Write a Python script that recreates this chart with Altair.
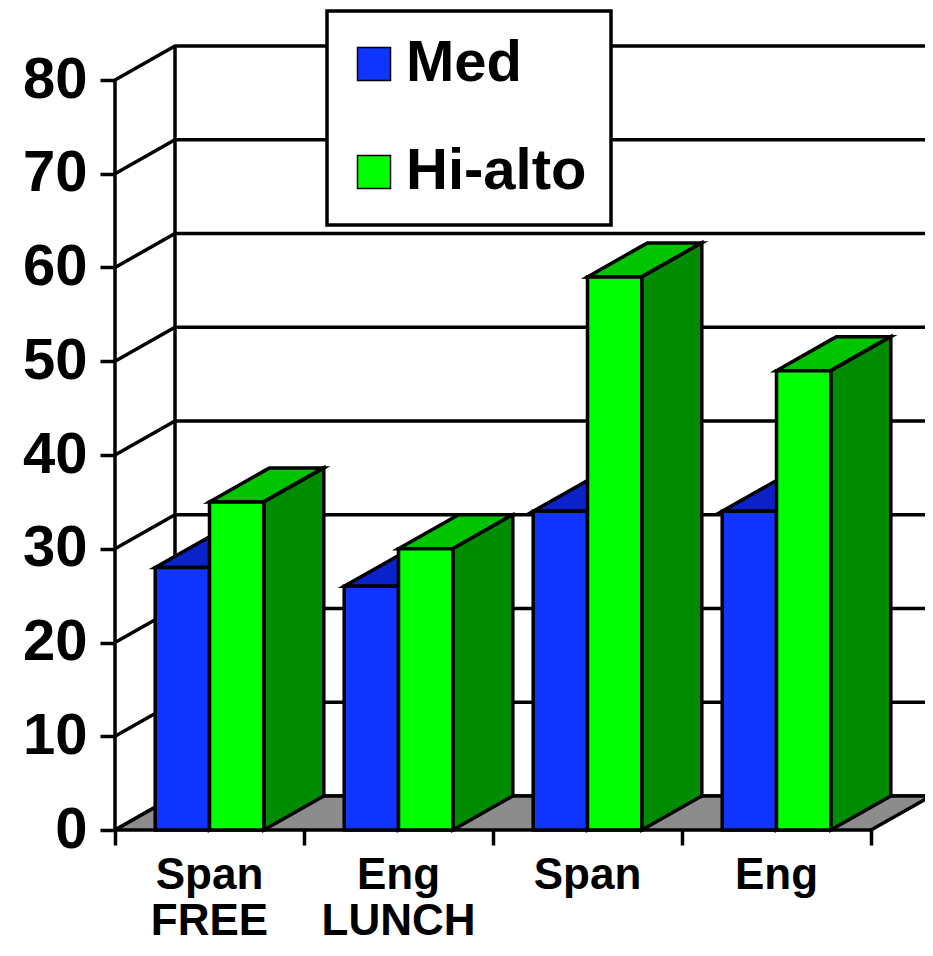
import altair as alt
import pandas as pd

# ---------------- data ----------------
label_line1 = ["Span", "Eng", "Span", "Eng"]
label_line2 = ["FREE", "LUNCH", "", ""]
series = ["Med", "Hi-alto"]
med = [28, 26, 34, 34]
hialto = [35, 30, 59, 49]
y_ticks = [0, 10, 20, 30, 40, 50, 60, 70, 80]
x_ticks = [0, 1, 2, 3, 4]

# ---------------- geometry (pixels -> data units) ----------------
CAT_PX = 189.0          # pixels per category
PX_PER_UNIT = 9.375     # pixels per value unit
W = 810                 # plot width (px)
H = 784                 # plot height (px)
XMAX = W / CAT_PX
YMAX = H / PX_PER_UNIT
DX = 60 / CAT_PX        # depth offset (x)
DY = 34 / PX_PER_UNIT   # depth offset (y)
GAP_L = 40.2 / CAT_PX
BW = 54.3 / CAT_PX
SW = 3.5                # outline width

front_col = {"Med": "#1035FF", "Hi-alto": "#00FF00"}
top_col = {"Med": "#0A22C8", "Hi-alto": "#00C400"}
side_col = {"Med": "#0718A0", "Hi-alto": "#008C00"}
FLOOR = "#8C8C8C"
FONT = "Liberation Sans"

values = {"Med": med, "Hi-alto": hialto}

front_rows, side_rows, top_rows = [], [], []
for i in range(len(label_line1)):
    for k, s in enumerate(series):
        v = values[s][i]
        x0 = i + GAP_L + k * BW
        x1 = x0 + BW
        bid = f"{s}-{i}"
        front_rows.append({"series": s, "x": x0, "x2": x1, "y": 0, "y2": v})
        side_rows += [
            {"id": bid, "c": side_col[s], "x": x1, "y": 0, "y2": v},
            {"id": bid, "c": side_col[s], "x": x1 + DX, "y": DY, "y2": v + DY},
        ]
        top_rows += [
            {"id": bid, "c": top_col[s], "x": x0, "y": v, "y2": v},
            {"id": bid, "c": top_col[s], "x": x1, "y": v, "y2": v + DY * BW / DX},
            {"id": bid, "c": top_col[s], "x": x0 + DX, "y": v + DY * (DX - BW) / DX, "y2": v + DY},
            {"id": bid, "c": top_col[s], "x": x1 + DX, "y": v + DY, "y2": v + DY},
        ]

front_df = pd.DataFrame(front_rows)
side_df = pd.DataFrame(side_rows)
top_df = pd.DataFrame(top_rows)

grid_rows = []
for t in y_ticks:
    grid_rows += [
        {"t": t, "x": 0, "y": t},
        {"t": t, "x": DX, "y": t + DY},
        {"t": t, "x": XMAX, "y": t + DY},
    ]
grid_df = pd.DataFrame(grid_rows)

nx = len(label_line1)
floor_df = pd.DataFrame([
    {"x": 0, "y": 0, "y2": 0},
    {"x": DX, "y": 0, "y2": DY},
    {"x": nx, "y": 0, "y2": DY},
    {"x": nx + DX, "y": DY, "y2": DY},
])

rules_df = pd.DataFrame([
    {"x": 0, "y": 0, "y2": y_ticks[-1]},
    {"x": DX, "y": DY, "y2": y_ticks[-1] + DY},
])

labels_df = pd.DataFrame({
    "x": [i + 0.5 for i in range(nx)],
    "y": [0] * nx,
    "label": [a + ("\n" + b if b else "") for a, b in zip(label_line1, label_line2)],
})

# ---------------- shared scales / axes ----------------
xs = alt.Scale(domain=[0, XMAX], nice=False, zero=False)
ys = alt.Scale(domain=[0, YMAX], nice=False, zero=False)
xaxis = alt.Axis(values=x_ticks, labels=False, domain=False, grid=False, title=None,
                 tickSize=15, tickWidth=SW, tickColor="black")
yaxis = alt.Axis(values=y_ticks, domain=False, grid=False, title=None,
                 tickSize=15, tickWidth=SW, tickColor="black",
                 labelFont=FONT, labelFontWeight="bold", labelFontSize=58,
                 labelColor="black", labelPadding=13)


def X(f="x"):
    return alt.X(f"{f}:Q", scale=xs, axis=xaxis)


def Y(f="y"):
    return alt.Y(f"{f}:Q", scale=ys, axis=yaxis, stack=None)


grid = alt.Chart(grid_df).mark_line(color="black", strokeWidth=SW).encode(
    x=X(), y=Y(), detail="t:N")

wall = alt.Chart(rules_df).mark_rule(color="black", strokeWidth=SW).encode(
    x=X(), y=Y(), y2="y2:Q")

floor = alt.Chart(floor_df).mark_area(fill=FLOOR, stroke="black", strokeWidth=SW,
                                      opacity=1).encode(x=X(), y=Y(), y2="y2:Q")

tops = alt.Chart(top_df).mark_area(stroke="black", strokeWidth=SW, opacity=1).encode(
    x=X(), y=Y(), y2="y2:Q", detail="id:N", fill=alt.Fill("c:N", scale=None))

sides = alt.Chart(side_df).mark_area(stroke="black", strokeWidth=SW, opacity=1).encode(
    x=X(), y=Y(), y2="y2:Q", detail="id:N", fill=alt.Fill("c:N", scale=None))

fronts = alt.Chart(front_df).mark_rect(stroke="black", strokeWidth=SW, opacity=1).encode(
    x=X(), x2="x2:Q", y=Y(), y2="y2:Q",
    color=alt.Color("series:N",
                    scale=alt.Scale(domain=series, range=[front_col[s] for s in series]),
                    legend=alt.Legend(title=None, orient="none", legendX=212, legendY=-35,
                                      labelFont=FONT, labelFontWeight="bold",
                                      labelFontSize=58, labelColor="black", labelLimit=400,
                                      labelOffset=3, symbolOffset=-6,
                                      symbolType="square", symbolSize=1089,
                                      symbolStrokeColor="black", symbolStrokeWidth=1.5,
                                      symbolOpacity=1, rowPadding=50, padding=24,
                                      fillColor="white", strokeColor="black")),
)

labels = alt.Chart(labels_df).mark_text(font=FONT, fontWeight="bold", fontSize=44,
                                        color="black", align="center",
                                        baseline="alphabetic", dy=59,
                                        lineBreak="\n", lineHeight=46).encode(
    x=X(), y=Y(), text="label:N")

chart = alt.layer(grid, wall, floor, tops, sides, fronts, labels).properties(
    width=W, height=H,
    autosize=alt.AutoSizeParams(type="none"),
    padding={"left": 107, "top": 38, "right": 0, "bottom": 116},
    background="white",
).configure_view(stroke=None).configure_legend(strokeWidth=SW)

chart.save("out.html", embed_options={"renderer": "svg", "actions": False})
